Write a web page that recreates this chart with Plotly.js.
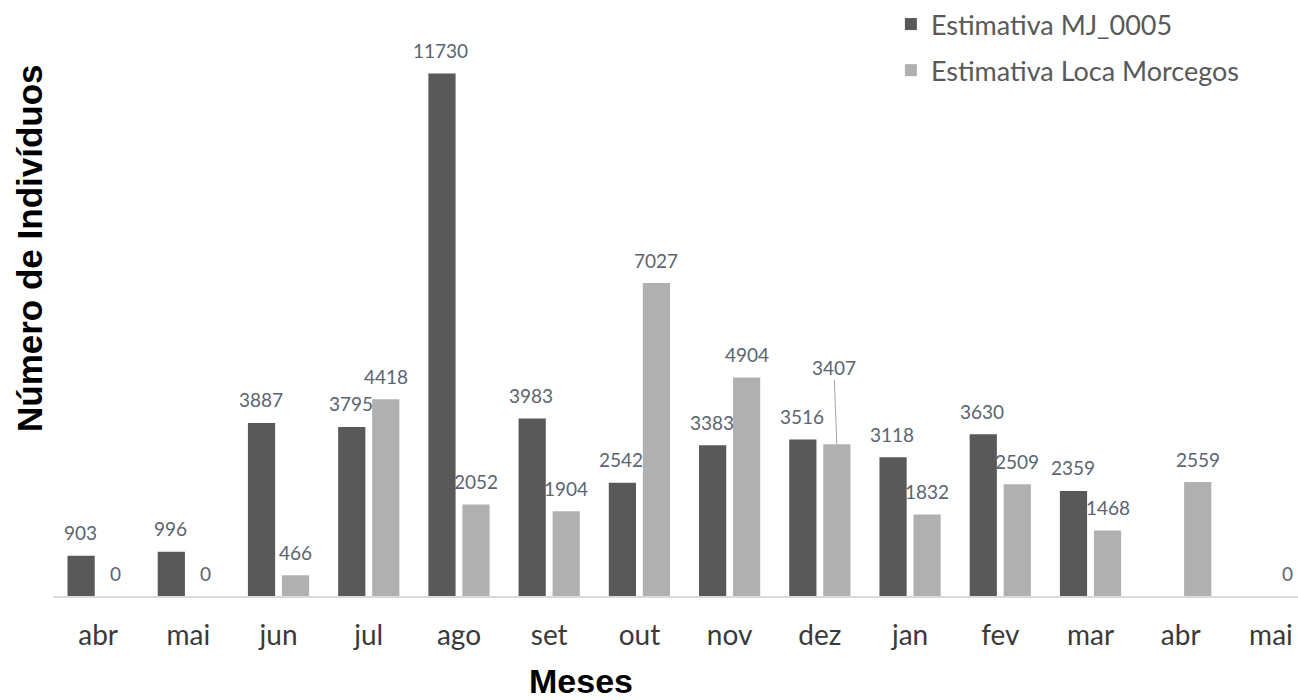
<!DOCTYPE html>
<html>
<head>
<meta charset="utf-8">
<script src="https://cdn.plot.ly/plotly-3.0.1.min.js"></script>
<style>html,body{margin:0;padding:0;background:#fff;}#chart{width:1298px;height:700px;}</style>
</head>
<body>
<div id="chart"></div>
<script>
const months = ['abr','mai','jun','jul','ago','set','out','nov','dez','jan','fev','mar','abr','mai'];
const mj = [903, 996, 3887, 3795, 11730, 3983, 2542, 3383, 3516, 3118, 3630, 2359, null, null];
const loca = [0, 0, 466, 4418, 2052, 1904, 7027, 4904, 3407, 1832, 2509, 1468, 2559, 0];
const seriesNames = ['Estimativa MJ_0005', 'Estimativa Loca Morcegos'];
const seriesColors = ['#595959', '#b0b0b0'];

const idx = months.map((m, i) => i);
const labelFont = {family: 'Lato, "Open Sans", sans-serif', size: 19, color: '#5b6470'};
const titleFont = {family: '"Liberation Sans", Arial, sans-serif', size: 35, color: '#000', weight: 'bold'};

const traces = [mj, loca].map((vals, s) => ({
  type: 'bar',
  x: idx,
  y: vals,
  name: seriesNames[s],
  legendgroup: 'g' + s,
  marker: {color: seriesColors[s]},
  hoverinfo: 'x+y'
}));

const annotations = [];
[mj, loca].forEach((vals, s) => {
  vals.forEach((v, i) => {
    if (v === null) return;
    const a = {
      x: i, y: v, xref: 'x', yref: 'y',
      text: String(v),
      xshift: s === 0 ? -18 : 17,
      font: labelFont,
      showarrow: false,
      yanchor: 'middle',
      yshift: 23
    };
    if (s === 1 && i === 8) {
      a.showarrow = true;
      a.arrowhead = 0;
      a.arrowwidth = 1;
      a.arrowcolor = '#a6a6a6';
      a.ax = -3; a.ay = -77;
      a.yshift = 0;
      a.standoff = 0;
    }
    annotations.push(a);
  });
});

// axis titles
annotations.push({
  xref: 'paper', yref: 'paper', x: -0.0193, y: 0.601,
  text: 'Número de Indivíduos', textangle: -90, showarrow: false,
  font: titleFont, xanchor: 'center', yanchor: 'middle'
});
annotations.push({
  xref: 'paper', yref: 'paper', x: 0.424, y: -0.147,
  text: 'Meses', showarrow: false,
  font: Object.assign({}, titleFont, {size: 34}), xanchor: 'center', yanchor: 'middle'
});

const layout = {
  width: 1298, height: 700,
  margin: {l: 53, r: 0, t: 14, b: 104},
  paper_bgcolor: '#fff', plot_bgcolor: '#fff',
  barmode: 'group', bargap: 0.246, bargroupgap: 0.2,
  showlegend: true,
  legend: {
    x: 0.673, y: 1.03, xanchor: 'left', yanchor: 'top',
    font: {family: 'Lato, "Open Sans", sans-serif', size: 27, color: '#595959'},
    traceorder: 'grouped', tracegroupgap: 8,
    itemwidth: 30,
    bgcolor: 'rgba(0,0,0,0)'
  },
  xaxis: {
    range: [-0.5, 13.3],
    tickmode: 'array', tickvals: idx, ticktext: months,
    ticklabeloverflow: 'allow',
    showgrid: false, zeroline: false,
    showline: true, linecolor: '#d9d9d9', linewidth: 1.5,
    ticks: 'outside', ticklen: 14, tickcolor: 'rgba(0,0,0,0)',
    tickfont: {family: 'Lato, "Open Sans", sans-serif', size: 28, color: '#3a3a3a'},
    fixedrange: true
  },
  yaxis: {
    range: [0, 13000],
    showgrid: false, zeroline: false, showline: false,
    showticklabels: false, ticks: '',
    fixedrange: true
  },
  annotations: annotations
};

Plotly.newPlot('chart', traces, layout, {displayModeBar: false});
</script>
</body>
</html>
